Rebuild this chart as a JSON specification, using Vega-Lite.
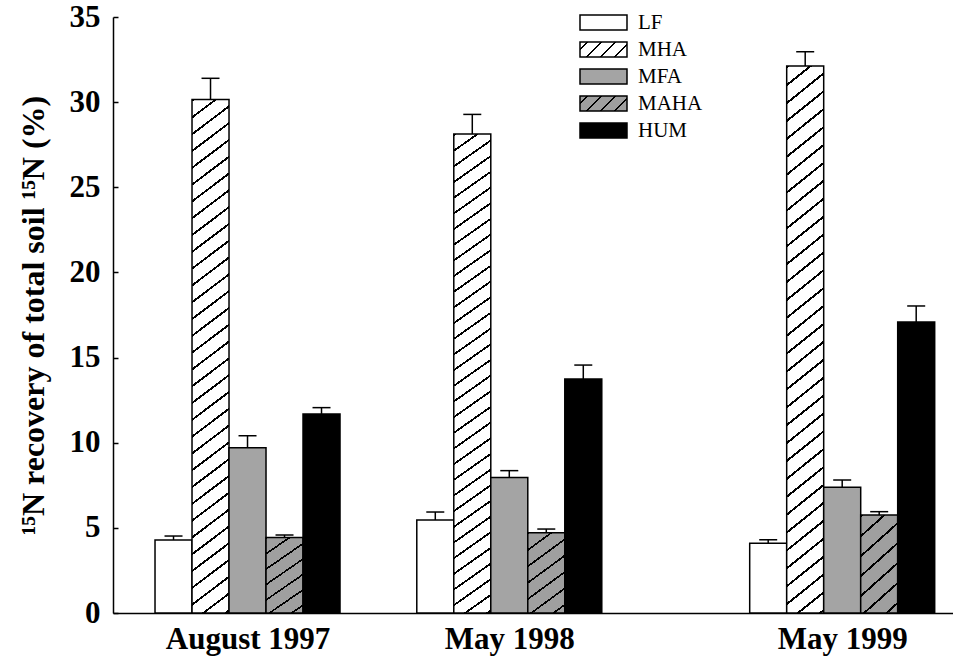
{
  "$schema": "https://vega.github.io/schema/vega-lite/v6.json",
  "width": 840,
  "height": 596,
  "autosize": {"type": "none"},
  "padding": {"left": 113, "top": 17, "right": 0, "bottom": 47},
  "background": "white",
  "config": {
    "view": {"stroke": null},
    "font": "Liberation Serif"
  },
  "params": [
    {"name": "gMHA", "value": {"gradient": "linear", "x1": 0, "y1": 0, "x2": 0.0634, "y2": 1.165, "stops": [
      {"offset": 0, "color": "#000"}, {"offset": 0.004, "color": "#000"}, {"offset": 0.004, "color": "#fff"}, {"offset": 0.028, "color": "#fff"},
      {"offset": 0.028, "color": "#000"}, {"offset": 0.032, "color": "#000"}, {"offset": 0.032, "color": "#fff"}, {"offset": 0.056, "color": "#fff"},
      {"offset": 0.056, "color": "#000"}, {"offset": 0.06, "color": "#000"}, {"offset": 0.06, "color": "#fff"}, {"offset": 0.084, "color": "#fff"},
      {"offset": 0.084, "color": "#000"}, {"offset": 0.088, "color": "#000"}, {"offset": 0.088, "color": "#fff"}, {"offset": 0.112, "color": "#fff"},
      {"offset": 0.112, "color": "#000"}, {"offset": 0.116, "color": "#000"}, {"offset": 0.116, "color": "#fff"}, {"offset": 0.14, "color": "#fff"},
      {"offset": 0.14, "color": "#000"}, {"offset": 0.144, "color": "#000"}, {"offset": 0.144, "color": "#fff"}, {"offset": 0.168, "color": "#fff"},
      {"offset": 0.168, "color": "#000"}, {"offset": 0.172, "color": "#000"}, {"offset": 0.172, "color": "#fff"}, {"offset": 0.196, "color": "#fff"},
      {"offset": 0.196, "color": "#000"}, {"offset": 0.2, "color": "#000"}, {"offset": 0.2, "color": "#fff"}, {"offset": 0.224, "color": "#fff"},
      {"offset": 0.224, "color": "#000"}, {"offset": 0.228, "color": "#000"}, {"offset": 0.228, "color": "#fff"}, {"offset": 0.252, "color": "#fff"},
      {"offset": 0.252, "color": "#000"}, {"offset": 0.256, "color": "#000"}, {"offset": 0.256, "color": "#fff"}, {"offset": 0.28, "color": "#fff"},
      {"offset": 0.28, "color": "#000"}, {"offset": 0.284, "color": "#000"}, {"offset": 0.284, "color": "#fff"}, {"offset": 0.308, "color": "#fff"},
      {"offset": 0.308, "color": "#000"}, {"offset": 0.312, "color": "#000"}, {"offset": 0.312, "color": "#fff"}, {"offset": 0.336, "color": "#fff"},
      {"offset": 0.336, "color": "#000"}, {"offset": 0.34, "color": "#000"}, {"offset": 0.34, "color": "#fff"}, {"offset": 0.364, "color": "#fff"},
      {"offset": 0.364, "color": "#000"}, {"offset": 0.368, "color": "#000"}, {"offset": 0.368, "color": "#fff"}, {"offset": 0.392, "color": "#fff"},
      {"offset": 0.392, "color": "#000"}, {"offset": 0.396, "color": "#000"}, {"offset": 0.396, "color": "#fff"}, {"offset": 0.42, "color": "#fff"},
      {"offset": 0.42, "color": "#000"}, {"offset": 0.424, "color": "#000"}, {"offset": 0.424, "color": "#fff"}, {"offset": 0.448, "color": "#fff"},
      {"offset": 0.448, "color": "#000"}, {"offset": 0.452, "color": "#000"}, {"offset": 0.452, "color": "#fff"}, {"offset": 0.476, "color": "#fff"},
      {"offset": 0.476, "color": "#000"}, {"offset": 0.48, "color": "#000"}, {"offset": 0.48, "color": "#fff"}, {"offset": 0.504, "color": "#fff"},
      {"offset": 0.504, "color": "#000"}, {"offset": 0.508, "color": "#000"}, {"offset": 0.508, "color": "#fff"}, {"offset": 0.532, "color": "#fff"},
      {"offset": 0.532, "color": "#000"}, {"offset": 0.536, "color": "#000"}, {"offset": 0.536, "color": "#fff"}, {"offset": 0.56, "color": "#fff"},
      {"offset": 0.56, "color": "#000"}, {"offset": 0.564, "color": "#000"}, {"offset": 0.564, "color": "#fff"}, {"offset": 0.588, "color": "#fff"},
      {"offset": 0.588, "color": "#000"}, {"offset": 0.592, "color": "#000"}, {"offset": 0.592, "color": "#fff"}, {"offset": 0.616, "color": "#fff"},
      {"offset": 0.616, "color": "#000"}, {"offset": 0.62, "color": "#000"}, {"offset": 0.62, "color": "#fff"}, {"offset": 0.644, "color": "#fff"},
      {"offset": 0.644, "color": "#000"}, {"offset": 0.648, "color": "#000"}, {"offset": 0.648, "color": "#fff"}, {"offset": 0.672, "color": "#fff"},
      {"offset": 0.672, "color": "#000"}, {"offset": 0.676, "color": "#000"}, {"offset": 0.676, "color": "#fff"}, {"offset": 0.7, "color": "#fff"},
      {"offset": 0.7, "color": "#000"}, {"offset": 0.704, "color": "#000"}, {"offset": 0.704, "color": "#fff"}, {"offset": 0.728, "color": "#fff"},
      {"offset": 0.728, "color": "#000"}, {"offset": 0.732, "color": "#000"}, {"offset": 0.732, "color": "#fff"}, {"offset": 0.756, "color": "#fff"},
      {"offset": 0.756, "color": "#000"}, {"offset": 0.76, "color": "#000"}, {"offset": 0.76, "color": "#fff"}, {"offset": 0.784, "color": "#fff"},
      {"offset": 0.784, "color": "#000"}, {"offset": 0.788, "color": "#000"}, {"offset": 0.788, "color": "#fff"}, {"offset": 0.812, "color": "#fff"},
      {"offset": 0.812, "color": "#000"}, {"offset": 0.816, "color": "#000"}, {"offset": 0.816, "color": "#fff"}, {"offset": 0.84, "color": "#fff"},
      {"offset": 0.84, "color": "#000"}, {"offset": 0.844, "color": "#000"}, {"offset": 0.844, "color": "#fff"}, {"offset": 0.868, "color": "#fff"},
      {"offset": 0.868, "color": "#000"}, {"offset": 0.872, "color": "#000"}, {"offset": 0.872, "color": "#fff"}, {"offset": 0.896, "color": "#fff"},
      {"offset": 0.896, "color": "#000"}, {"offset": 0.9, "color": "#000"}, {"offset": 0.9, "color": "#fff"}, {"offset": 0.924, "color": "#fff"},
      {"offset": 0.924, "color": "#000"}, {"offset": 0.928, "color": "#000"}, {"offset": 0.928, "color": "#fff"}, {"offset": 0.952, "color": "#fff"},
      {"offset": 0.952, "color": "#000"}, {"offset": 0.956, "color": "#000"}, {"offset": 0.956, "color": "#fff"}, {"offset": 0.98, "color": "#fff"},
      {"offset": 0.98, "color": "#000"}, {"offset": 0.984, "color": "#000"}, {"offset": 0.984, "color": "#fff"}, {"offset": 1, "color": "#fff"}
    ]}},
    {"name": "gMAHA", "value": {"gradient": "linear", "x1": 0, "y1": 0, "x2": 0.4947, "y2": 1.462, "stops": [
      {"offset": 0, "color": "#000"}, {"offset": 0.016, "color": "#000"}, {"offset": 0.016, "color": "#9f9f9f"}, {"offset": 0.125, "color": "#9f9f9f"},
      {"offset": 0.125, "color": "#000"}, {"offset": 0.141, "color": "#000"}, {"offset": 0.141, "color": "#9f9f9f"}, {"offset": 0.25, "color": "#9f9f9f"},
      {"offset": 0.25, "color": "#000"}, {"offset": 0.266, "color": "#000"}, {"offset": 0.266, "color": "#9f9f9f"}, {"offset": 0.375, "color": "#9f9f9f"},
      {"offset": 0.375, "color": "#000"}, {"offset": 0.391, "color": "#000"}, {"offset": 0.391, "color": "#9f9f9f"}, {"offset": 0.5, "color": "#9f9f9f"},
      {"offset": 0.5, "color": "#000"}, {"offset": 0.516, "color": "#000"}, {"offset": 0.516, "color": "#9f9f9f"}, {"offset": 0.625, "color": "#9f9f9f"},
      {"offset": 0.625, "color": "#000"}, {"offset": 0.641, "color": "#000"}, {"offset": 0.641, "color": "#9f9f9f"}, {"offset": 0.75, "color": "#9f9f9f"},
      {"offset": 0.75, "color": "#000"}, {"offset": 0.766, "color": "#000"}, {"offset": 0.766, "color": "#9f9f9f"}, {"offset": 0.875, "color": "#9f9f9f"},
      {"offset": 0.875, "color": "#000"}, {"offset": 0.891, "color": "#000"}, {"offset": 0.891, "color": "#9f9f9f"}, {"offset": 1, "color": "#9f9f9f"}
    ]}},
    {"name": "gMHAleg", "value": {"gradient": "linear", "x1": 0, "y1": 0, "x2": 1.197, "y2": 0.382, "stops": [
      {"offset": 0, "color": "#fff"}, {"offset": 0.1, "color": "#fff"}, {"offset": 0.1, "color": "#000"}, {"offset": 0.135, "color": "#000"},
      {"offset": 0.135, "color": "#fff"}, {"offset": 0.325, "color": "#fff"}, {"offset": 0.325, "color": "#000"}, {"offset": 0.36, "color": "#000"},
      {"offset": 0.36, "color": "#fff"}, {"offset": 0.55, "color": "#fff"}, {"offset": 0.55, "color": "#000"}, {"offset": 0.585, "color": "#000"},
      {"offset": 0.585, "color": "#fff"}, {"offset": 0.775, "color": "#fff"}, {"offset": 0.775, "color": "#000"}, {"offset": 0.81, "color": "#000"},
      {"offset": 0.81, "color": "#fff"}, {"offset": 1, "color": "#fff"}
    ]}},
    {"name": "gMAHAleg", "value": {"gradient": "linear", "x1": 0, "y1": 0, "x2": 1.197, "y2": 0.382, "stops": [
      {"offset": 0, "color": "#9f9f9f"}, {"offset": 0.1, "color": "#9f9f9f"}, {"offset": 0.1, "color": "#000"}, {"offset": 0.135, "color": "#000"},
      {"offset": 0.135, "color": "#9f9f9f"}, {"offset": 0.325, "color": "#9f9f9f"}, {"offset": 0.325, "color": "#000"}, {"offset": 0.36, "color": "#000"},
      {"offset": 0.36, "color": "#9f9f9f"}, {"offset": 0.55, "color": "#9f9f9f"}, {"offset": 0.55, "color": "#000"}, {"offset": 0.585, "color": "#000"},
      {"offset": 0.585, "color": "#9f9f9f"}, {"offset": 0.775, "color": "#9f9f9f"}, {"offset": 0.775, "color": "#000"}, {"offset": 0.81, "color": "#000"},
      {"offset": 0.81, "color": "#9f9f9f"}, {"offset": 1, "color": "#9f9f9f"}
    ]}}
  ],
  "data": {
    "values": [
      {"date": "1997-08-01", "series": "LF", "value": 4.29, "upper": 4.52},
      {"date": "1997-08-01", "series": "MHA", "value": 30.16, "upper": 31.4},
      {"date": "1997-08-01", "series": "MFA", "value": 9.71, "upper": 10.41},
      {"date": "1997-08-01", "series": "MAHA", "value": 4.44, "upper": 4.58},
      {"date": "1997-08-01", "series": "HUM", "value": 11.69, "upper": 12.06},
      {"date": "1998-05-15", "series": "LF", "value": 5.46, "upper": 5.93},
      {"date": "1998-05-15", "series": "MHA", "value": 28.13, "upper": 29.28},
      {"date": "1998-05-15", "series": "MFA", "value": 7.95, "upper": 8.36},
      {"date": "1998-05-15", "series": "MAHA", "value": 4.72, "upper": 4.93},
      {"date": "1998-05-15", "series": "HUM", "value": 13.74, "upper": 14.56},
      {"date": "1999-05-15", "series": "LF", "value": 4.09, "upper": 4.3},
      {"date": "1999-05-15", "series": "MHA", "value": 32.12, "upper": 32.96},
      {"date": "1999-05-15", "series": "MFA", "value": 7.38, "upper": 7.81},
      {"date": "1999-05-15", "series": "MAHA", "value": 5.75, "upper": 5.95},
      {"date": "1999-05-15", "series": "HUM", "value": 17.09, "upper": 18.03}
    ]
  },
  "encoding": {
    "x": {
      "field": "date", "type": "temporal",
      "scale": {"type": "utc", "domain": [{"year": 1997, "month": 3, "date": 12, "utc": true}, {"year": 1999, "month": 9, "date": 8, "utc": true}]},
      "axis": {
        "title": null,
        "values": [{"year": 1997, "month": 8, "date": 1, "utc": true}, {"year": 1998, "month": 5, "date": 15, "utc": true}, {"year": 1999, "month": 5, "date": 15, "utc": true}],
        "labelExpr": "utcFormat(datum.value, '%B %Y')",
        "ticks": false, "grid": false,
        "domainColor": "#000", "domainWidth": 1.5,
        "labelFont": "Liberation Serif", "labelFontWeight": "bold", "labelFontSize": 31, "labelColor": "#000",
        "labelPadding": 11, "labelOverlap": false, "labelFlush": false
      }
    }
  },
  "layer": [
    {
      "mark": {"type": "bar", "width": 37, "strokeWidth": 1.5,
               "xOffset": {"expr": "indexof(['LF','MHA','MFA','MAHA','HUM'], datum.series) * 37 - 74"}},
      "encoding": {
        "y": {
          "field": "value", "type": "quantitative", "stack": null,
          "scale": {"domain": [0, 35], "nice": false},
          "axis": {
            "title": "¹⁵N recovery of total soil ¹⁵N (%)",
            "values": [0, 5, 10, 15, 20, 25, 30, 35],
            "grid": false,
            "domainColor": "#000", "domainWidth": 1.5,
            "tickColor": "#000", "tickWidth": 1.5, "tickSize": -5,
            "labelFont": "Liberation Serif", "labelFontWeight": "bold", "labelFontSize": 31, "labelColor": "#000",
            "labelPadding": 18,
            "titleFont": "Liberation Serif", "titleFontWeight": "bold", "titleFontSize": 32, "titleColor": "#000",
            "titleX": -63, "titleY": 298, "titleAngle": -90, "titleBaseline": "bottom", "titleAlign": "center"
          }
        },
        "stroke": {
          "field": "series", "type": "nominal",
          "scale": {"domain": ["LF", "MHA", "MFA", "MAHA", "HUM"], "range": ["#000000", "#000000", "#000000", "#000000", "#000000"]},
          "legend": {
            "title": null,
            "orient": "none", "legendX": 480, "legendY": -5,
            "padding": 0,
            "symbolType": "M-3.133,-1H3.133V1H-3.133Z",
            "symbolSize": 225,
            "symbolStrokeWidth": 1.5,
            "symbolOpacity": 1,
            "labelFont": "Liberation Serif", "labelFontSize": 21, "labelColor": "#000",
            "labelOffset": 24, "rowPadding": 5
          }
        },
        "fill": {
          "value": {"expr": "isValid(datum.series) ? (datum.series === 'MHA' ? gMHA : datum.series === 'MAHA' ? gMAHA : datum.series === 'LF' ? '#ffffff' : datum.series === 'MFA' ? '#a4a4a4' : '#000000') : (datum.value === 'MHA' ? gMHAleg : datum.value === 'MAHA' ? gMAHAleg : datum.value === 'LF' ? '#ffffff' : datum.value === 'MFA' ? '#a4a4a4' : '#000000')"}
        }
      }
    },
    {
      "mark": {"type": "rule", "stroke": "#000", "strokeWidth": 1.5,
               "xOffset": {"expr": "indexof(['LF','MHA','MFA','MAHA','HUM'], datum.series) * 37 - 74"}},
      "encoding": {
        "y": {"field": "value", "type": "quantitative"},
        "y2": {"field": "upper"}
      }
    },
    {
      "mark": {"type": "tick", "orient": "horizontal", "size": 18, "thickness": 1.5, "color": "#000", "opacity": 1,
               "xOffset": {"expr": "indexof(['LF','MHA','MFA','MAHA','HUM'], datum.series) * 37 - 74"}},
      "encoding": {
        "y": {"field": "upper", "type": "quantitative"}
      }
    }
  ]
}
